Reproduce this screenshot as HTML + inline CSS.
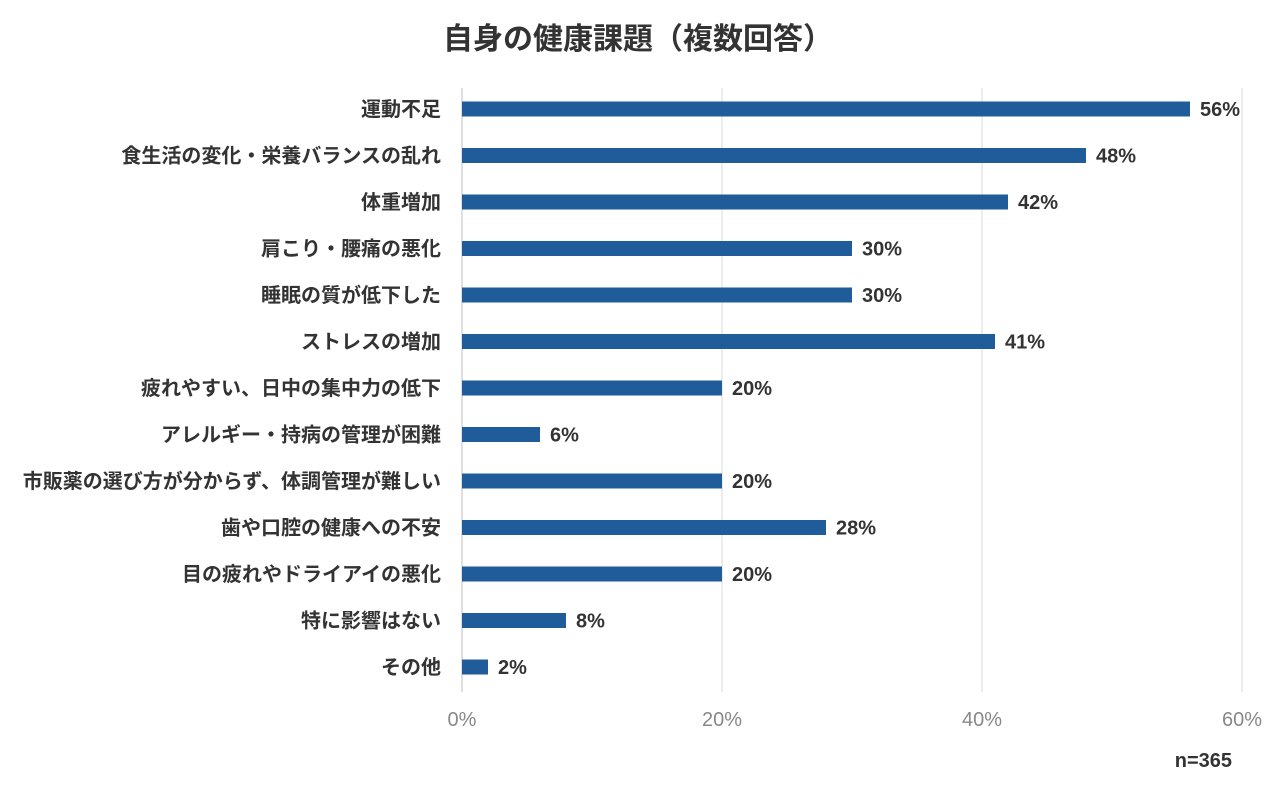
<!DOCTYPE html>
<html><head><meta charset="utf-8"><style>
body{margin:0;background:#fff;width:1280px;height:785px;overflow:hidden;font-family:"Liberation Sans","Noto Sans CJK JP",sans-serif;}
</style></head><body>
<svg id="chart" width="1280" height="785" xmlns="http://www.w3.org/2000/svg" style="font-family:'Liberation Sans','Noto Sans CJK JP',sans-serif">
<text x="638" y="49" text-anchor="middle" font-size="30" font-weight="bold" fill="#333">自身の健康課題（複数回答）</text>
<g id="grid"></g><g id="bars"></g>
<text x="1232" y="767" text-anchor="end" font-size="20" font-weight="bold" fill="#333">n=365</text>
</svg>
<script>
const categories=["運動不足","食生活の変化・栄養バランスの乱れ","体重増加","肩こり・腰痛の悪化","睡眠の質が低下した","ストレスの増加","疲れやすい、日中の集中力の低下","アレルギー・持病の管理が困難","市販薬の選び方が分からず、体調管理が難しい","歯や口腔の健康への不安","目の疲れやドライアイの悪化","特に影響はない","その他"];
const values=[56,48,42,30,30,41,20,6,20,28,20,8,2];
const ticks=[0,20,40,60];
const NS="http://www.w3.org/2000/svg";
const x=v=>462+v*13;
const y=i=>109+i*46.5;
function mk(t,a,p){const e=document.createElementNS(NS,t);for(const k in a)e.setAttribute(k,a[k]);p.appendChild(e);return e;}
const g=document.getElementById('grid'),b=document.getElementById('bars');
ticks.forEach(t=>{
 const l=mk('line',{x1:x(t),x2:x(t),y1:88,y2:692,stroke:t===0?'#bfbfbf':'#d9d9d9','stroke-width':1},g);
 
 
 const tx=mk('text',{x:x(t),y:726,'text-anchor':'middle','font-size':20,fill:'#888'},g);
 tx.textContent=t+'%';
 
 
});
categories.forEach((c,i)=>{
 const r=mk('rect',{x:x(0),y:y(i)-7.5,width:x(values[i])-x(0),height:15,fill:'#1f5c99'},b);
 
 
 const lb=mk('text',{x:441,y:y(i)+7,'text-anchor':'end','font-size':20,'font-weight':'bold',fill:'#333'},b);
 lb.textContent=c;
 
 
 const v=mk('text',{x:x(values[i])+10,y:y(i)+7,'font-size':20,'font-weight':'bold',fill:'#333'},b);
 v.textContent=values[i]+'%';
 
 
});
</script>
</body></html>
